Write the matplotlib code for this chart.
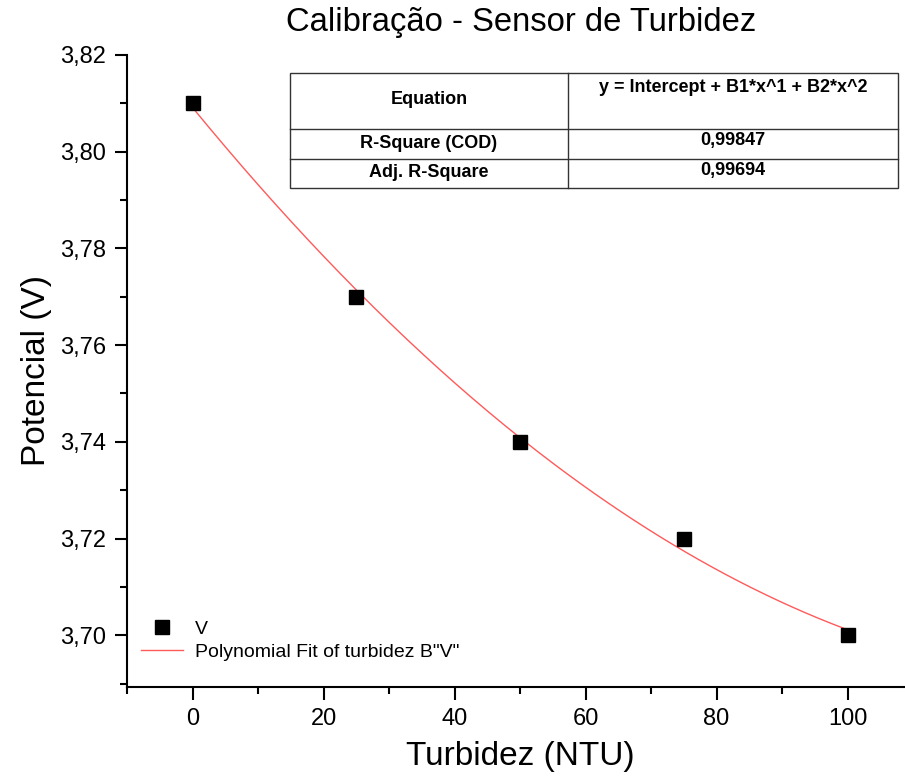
import numpy as np
import matplotlib
matplotlib.use("Agg")
import matplotlib.pyplot as plt
from matplotlib.ticker import MultipleLocator, FuncFormatter
from matplotlib.patches import Rectangle
from matplotlib.lines import Line2D

# dados
turbidez = [0, 25, 50, 75, 100]
potencial = [3.81, 3.77, 3.74, 3.72, 3.70]
x_ticks = [0, 20, 40, 60, 80, 100]
y_ticks = [3.70, 3.72, 3.74, 3.76, 3.78, 3.80, 3.82]
tab_rotulos = ["Equation", "R-Square (COD)", "Adj. R-Square"]
tab_valores = ["y = Intercept + B1*x^1 + B2*x^2", "0,99847", "0,99694"]

plt.rcParams['font.family'] = ['Liberation Sans', 'DejaVu Sans']

W, H = 905, 784
fig = plt.figure(figsize=(W / 100, H / 100), dpi=100)
ax = fig.add_axes([127 / W, 97 / H, 786 / W, 632 / H])

# ajuste polinomial de 2a ordem
coef = np.polyfit(turbidez, potencial, 2)
x_fit = np.linspace(min(turbidez), max(turbidez), 200)
fit_line, = ax.plot(x_fit, np.polyval(coef, x_fit), color='#ff5a5a', lw=1.0, zorder=2)
pts, = ax.plot(turbidez, potencial, 's', color='black', ms=10, ls='none', zorder=3)

ax.set_xlim(-10, 110)
ax.set_ylim(3.6893, 3.82)
ax.set_xticks(x_ticks)
ax.set_yticks(y_ticks)
ax.xaxis.set_minor_locator(MultipleLocator(10))
ax.yaxis.set_minor_locator(MultipleLocator(0.01))
ax.yaxis.set_major_formatter(FuncFormatter(lambda v, p: f'{v:.2f}'.replace('.', ',')))

for s in ['top', 'right']:
    ax.spines[s].set_visible(False)
ax.spines['left'].set_linewidth(1.5)
ax.spines['bottom'].set_linewidth(1.5)
ax.tick_params(which='major', direction='out', length=9, width=1.5, labelsize=17, pad=6)
ax.tick_params(which='minor', direction='out', length=5, width=1.5)

ax.set_xlabel('Turbidez (NTU)', fontsize=24, labelpad=8)
ax.set_ylabel('Potencial (V)', fontsize=24, labelpad=6)
fig.text(521 / W, 1 - 23 / H, 'Calibração - Sensor de Turbidez', ha='center', va='center', fontsize=23.6)

# tabela com resultados do ajuste (coordenadas em pixels da figura)
def fx(px):
    return px / W

def fy(py):
    return 1 - py / H

col_x = [290, 568, 898]
row_y = [73, 129, 159, 188]
fig.add_artist(Rectangle((fx(col_x[0]), fy(row_y[-1])), fx(col_x[2]) - fx(col_x[0]),
                         fy(row_y[0]) - fy(row_y[-1]), transform=fig.transFigure,
                         fill=False, lw=1.0, ec='#333333'))
fig.add_artist(Line2D([fx(col_x[1])] * 2, [fy(row_y[0]), fy(row_y[-1])],
                      transform=fig.transFigure, lw=1.0, color='#333333'))
for yy in row_y[1:-1]:
    fig.add_artist(Line2D([fx(col_x[0]), fx(col_x[2])], [fy(yy)] * 2,
                          transform=fig.transFigure, lw=1.0, color='#333333'))
for i, (rot, val) in enumerate(zip(tab_rotulos, tab_valores)):
    yc = (row_y[i] + row_y[i + 1]) / 2 - 1
    fig.text(fx((col_x[0] + col_x[1]) / 2), fy(yc), rot, ha='center', va='center',
             fontsize=13, fontweight='bold')
    yv = row_y[i] + 14 if i == 0 else yc - 2
    fig.text(fx((col_x[1] + col_x[2]) / 2), fy(yv), val, ha='center', va='center',
             fontsize=13, fontweight='bold')

ax.legend([pts, fit_line], ['V', 'Polynomial Fit of turbidez B"V"'], loc='lower left',
          bbox_to_anchor=(0.0, 0.02), frameon=False, fontsize=14, handlelength=2.2,
          handletextpad=0.6, labelspacing=0.25, borderaxespad=0.3)

fig.savefig('out.png', dpi=100)
